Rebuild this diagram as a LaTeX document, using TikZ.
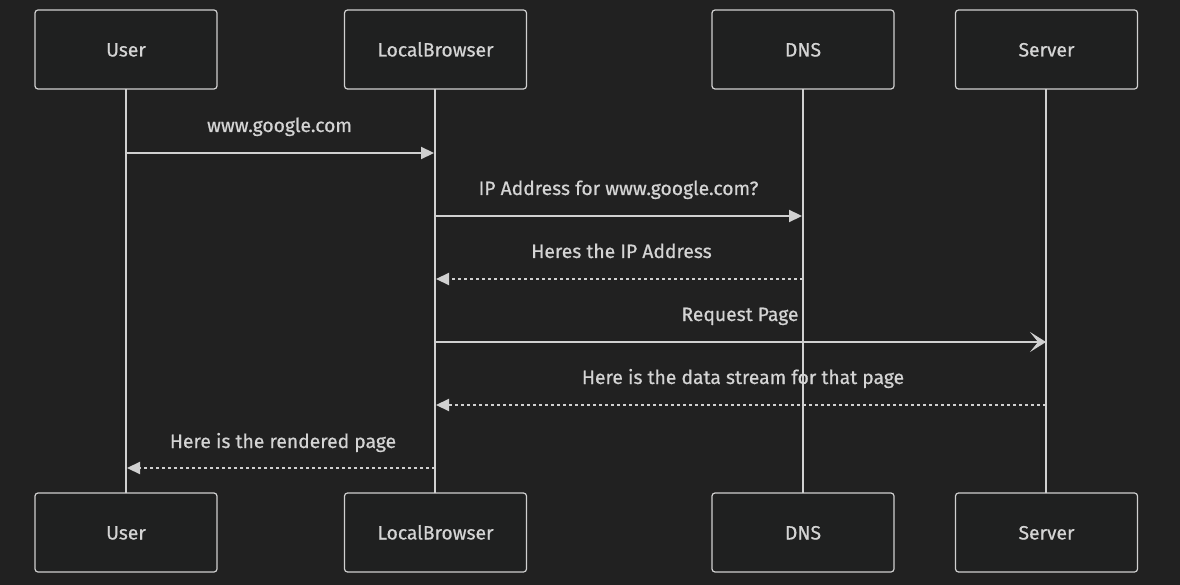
\documentclass[tikz,border=0pt]{standalone}
\usepackage{fontspec}
\setmainfont{Fira Sans}[FakeBold=0.6,AutoFakeBold=0.6]
\usetikzlibrary{arrows.meta}
\definecolor{bg}{HTML}{212121}
\definecolor{boxfill}{HTML}{1F2020}
\definecolor{fg}{HTML}{D0D0D0}
\definecolor{txt}{HTML}{D4D4D4}
\newcommand{\lblfont}{\fontsize{19.3}{22}\selectfont\bfseries}
\begin{document}
\begin{tikzpicture}[x=1pt,y=-1pt,
  actor/.style={draw=fg,fill=boxfill,line width=1.2pt,rounded corners=3pt,minimum width=182pt,minimum height=79pt,text=txt,font=\lblfont,text height=14pt,text depth=0pt},
  life/.style={draw=fg,line width=2.2pt},
  msg/.style={draw=fg,line width=2.2pt,-{Triangle[length=13pt,width=12pt]}},
  reply/.style={msg,dash pattern=on 3pt off 3pt},
  async/.style={draw=fg,line width=2.2pt,-{Stealth[length=16pt,width=20pt,inset=8pt]}},
  lbl/.style={text=txt,font=\lblfont,inner sep=0pt,anchor=base}]
\fill[bg] (0,0) rectangle (1180,585);
\useasboundingbox (0,0) rectangle (1180,585);
% lifelines coordinates
\coordinate (uT) at (126,89); \coordinate (uB) at (126,493);
\coordinate (lT) at (435,89); \coordinate (lB) at (435,493);
\coordinate (dT) at (803,89); \coordinate (dB) at (803,493);
\coordinate (sT) at (1046,89); \coordinate (sB) at (1046,493);
\draw[life] (uT) -- (uB);
\draw[life] (lT) -- (lB);
\draw[life] (dT) -- (dB);
\draw[life] (sT) -- (sB);
% actors
\node[actor] (userT) at (126,49.5) {User};
\node[actor] (lbT) at (435.5,49.5) {LocalBrowser};
\node[actor] (dnsT) at (803,49.5) {DNS};
\node[actor] (srvT) at (1046.5,49.5) {Server};
\node[actor] (userB) at (126,532.5) {User};
\node[actor] (lbB) at (435.5,532.5) {LocalBrowser};
\node[actor] (dnsB) at (803,532.5) {DNS};
\node[actor] (srvB) at (1046.5,532.5) {Server};
% message anchors
\coordinate (u1) at (126,153); \coordinate (l1) at (434,153);
\coordinate (l2) at (435,216); \coordinate (d2) at (802,216);
\coordinate (d3) at (803,279); \coordinate (l3) at (436,279);
\coordinate (l4) at (435,342); \coordinate (s4) at (1046,342);
\coordinate (s5) at (1046,405); \coordinate (l5) at (436,405);
\coordinate (l6) at (435,468); \coordinate (u6) at (127,468);
\draw[msg] (u1) -- (l1);
\draw[msg] (l2) -- (d2);
\draw[reply] (d3) -- (l3);
\draw[async] (l4) -- (s4);
\draw[reply] (s5) -- (l5);
\draw[reply] (l6) -- (u6);
% labels
\node[lbl] (t1) at (279.5,132) {www.google.com};
\node[lbl] (t2) at (618.5,195) {IP Address for www.google.com?};
\node[lbl] (t3) at (621.5,258) {Heres the IP Address};
\node[lbl] (t4) at (740,321) {Request Page};
\node[lbl] (t5) at (743,384) {Here is the data stream for that page};
\node[lbl] (t6) at (283,448) {Here is the rendered page};
\end{tikzpicture}
\end{document}
